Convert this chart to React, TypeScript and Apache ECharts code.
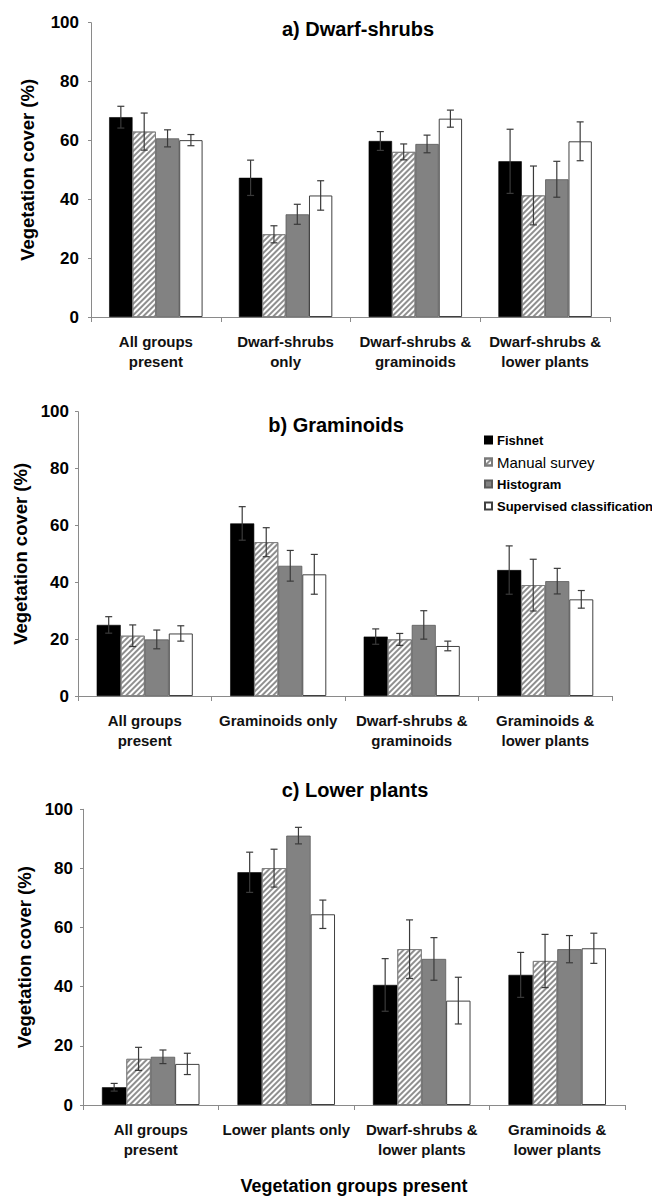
import React, { useEffect, useRef } from "react";
import * as echarts from "echarts";

const SERIES_NAMES = ["Fishnet", "Manual survey", "Histogram", "Supervised classification"];

const CATS_A = ["All groups\npresent", "Dwarf-shrubs\nonly", "Dwarf-shrubs &\ngraminoids", "Dwarf-shrubs &\nlower plants"];
const CATS_B = ["All groups\npresent", "Graminoids only", "Dwarf-shrubs &\ngraminoids", "Graminoids &\nlower plants"];
const CATS_C = ["All groups\npresent", "Lower plants only", "Dwarf-shrubs &\nlower plants", "Graminoids &\nlower plants"];

const Y_TICKS = [0, 20, 40, 60, 80, 100];

// Panel a) Dwarf-shrubs
const A_FISHNET = [67.9, 47.3, 59.8, 52.9];
const A_FISHNET_ERR = [3.7, 6.0, 3.2, 10.9];
const A_MANUAL = [63.0, 28.1, 56.1, 41.3];
const A_MANUAL_ERR = [6.3, 2.9, 2.7, 10.0];
const A_HIST = [60.7, 34.9, 58.8, 46.8];
const A_HIST_ERR = [2.9, 3.4, 3.0, 6.1];
const A_SUP = [60.1, 41.3, 67.4, 59.7];
const A_SUP_ERR = [1.9, 5.0, 2.9, 6.6];

// Panel b) Graminoids
const B_FISHNET = [25.0, 60.7, 20.9, 44.3];
const B_FISHNET_ERR = [2.9, 5.9, 2.7, 8.5];
const B_MANUAL = [21.2, 54.1, 19.9, 39.0];
const B_MANUAL_ERR = [3.8, 5.1, 2.1, 9.1];
const B_HIST = [19.9, 45.8, 25.0, 40.4];
const B_HIST_ERR = [3.3, 5.4, 5.0, 4.5];
const B_SUP = [22.0, 42.8, 17.6, 34.0];
const B_SUP_ERR = [2.7, 7.0, 1.7, 3.1];

// Panel c) Lower plants
const C_FISHNET = [6.0, 78.7, 40.6, 44.0];
const C_FISHNET_ERR = [1.3, 6.8, 8.9, 7.6];
const C_MANUAL = [15.6, 80.1, 52.7, 48.7];
const C_MANUAL_ERR = [3.9, 6.4, 9.9, 9.0];
const C_HIST = [16.3, 91.1, 49.4, 52.7];
const C_HIST_ERR = [2.3, 2.8, 7.2, 4.6];
const C_SUP = [13.9, 64.5, 35.3, 53.0];
const C_SUP_ERR = [3.6, 4.8, 7.9, 5.1];

const FONT = "'Liberation Sans', Arial, Helvetica, sans-serif";
const GAP = 0.28;

const STYLES: any[] = [
  { color: "#000000", borderColor: "#000000", borderWidth: 0.6 },
  {
    color: "#ffffff",
    borderColor: "#7a7a7a",
    borderWidth: 0.8,
    decal: {
      symbol: "rect",
      symbolSize: 1,
      color: "#8f8f8f",
      dashArrayX: [1, 0],
      dashArrayY: [1.1, 1.9],
      rotation: -Math.PI / 4,
    },
  },
  { color: "#828282", borderColor: "#5a5a5a", borderWidth: 0.8 },
  { color: "#ffffff", borderColor: "#404040", borderWidth: 1 },
];

export default function App() {
  const ref = useRef<HTMLDivElement>(null);

  useEffect(() => {
    if (!ref.current) return;
    const chart = echarts.init(ref.current, undefined, { renderer: "svg" });

    const panels = [
      { cats: CATS_A, vals: [A_FISHNET, A_MANUAL, A_HIST, A_SUP], errs: [A_FISHNET_ERR, A_MANUAL_ERR, A_HIST_ERR, A_SUP_ERR], grid: { left: 91, right: 42, top: 22.7, height: 294.3 }, labelMargin: 12, nameGap: 54 },
      { cats: CATS_B, vals: [B_FISHNET, B_MANUAL, B_HIST, B_SUP], errs: [B_FISHNET_ERR, B_MANUAL_ERR, B_HIST_ERR, B_SUP_ERR], grid: { left: 78, right: 40, top: 411.7, height: 284.3 }, labelMargin: 9, nameGap: 40 },
      { cats: CATS_C, vals: [C_FISHNET, C_MANUAL, C_HIST, C_SUP], errs: [C_FISHNET_ERR, C_MANUAL_ERR, C_HIST_ERR, C_SUP_ERR], grid: { left: 83, right: 27, top: 809.3, height: 295.7 }, labelMargin: 10, nameGap: 43 },
    ];

    const grids: any[] = [];
    const xAxes: any[] = [];
    const yAxes: any[] = [];
    const series: any[] = [];

    panels.forEach((p, gi) => {
      grids.push({ ...p.grid, containLabel: false });
      xAxes.push({
        type: "category",
        gridIndex: gi,
        data: p.cats,
        axisLine: { lineStyle: { color: "#8a8a8a", width: 1 } },
        axisTick: { show: true, length: 5, lineStyle: { color: "#8a8a8a" } },
        axisLabel: {
          color: "#111",
          fontFamily: FONT,
          fontWeight: "bold",
          fontSize: 15,
          lineHeight: 20,
          margin: 14,
          interval: 0,
        },
        name: gi === 2 ? "Vegetation groups present" : "",
        nameLocation: "middle",
        nameGap: 72,
        nameTextStyle: { color: "#000", fontFamily: FONT, fontWeight: "bold", fontSize: 18 },
      });
      yAxes.push({
        type: "value",
        gridIndex: gi,
        min: 0,
        max: 100,
        interval: 20,
        splitLine: { show: false },
        axisLine: { show: true, lineStyle: { color: "#8a8a8a", width: 1 } },
        axisTick: { show: true, length: 3, lineStyle: { color: "#8a8a8a" } },
        axisLabel: {
          color: "#000",
          fontFamily: FONT,
          fontWeight: "bold",
          fontSize: 17,
          margin: p.labelMargin,
          formatter: (v: number) => (Y_TICKS.indexOf(v) >= 0 ? String(v) : ""),
        },
        name: "Vegetation cover (%)",
        nameLocation: "middle",
        nameGap: p.nameGap,
        nameTextStyle: { color: "#000", fontFamily: FONT, fontWeight: "bold", fontSize: 18.5 },
      });

      p.vals.forEach((vals, si) => {
        series.push({
          type: "bar",
          name: SERIES_NAMES[si],
          xAxisIndex: gi,
          yAxisIndex: gi,
          data: vals,
          barGap: "0%",
          barCategoryGap: GAP * 100 + "%",
          itemStyle: STYLES[si],
          emphasis: { disabled: true },
        });
      });

      const errData: any[] = [];
      p.vals.forEach((vals, si) => {
        vals.forEach((v, ci) => {
          errData.push([ci, v, p.errs[si][ci], si]);
        });
      });
      series.push({
        type: "custom",
        xAxisIndex: gi,
        yAxisIndex: gi,
        data: errData,
        encode: { x: 0, y: 1 },
        silent: true,
        z: 10,
        renderItem: (params: any, api: any) => {
          const ci = api.value(0);
          const v = api.value(1);
          const e = api.value(2);
          const si = api.value(3);
          const bw = api.size([1, 0])[0];
          const w = (bw * (1 - GAP)) / 4;
          const c = api.coord([ci, v]);
          const x = c[0] + (si - 1.5) * w;
          const yt = api.coord([ci, v + e])[1];
          const yb = api.coord([ci, v - e])[1];
          const cap = 3.5;
          const st = { stroke: "#3a3a3a", lineWidth: 1.2 };
          return {
            type: "group",
            children: [
              { type: "line", shape: { x1: x, y1: yt, x2: x, y2: yb }, style: st },
              { type: "line", shape: { x1: x - cap, y1: yt, x2: x + cap, y2: yt }, style: st },
              { type: "line", shape: { x1: x - cap, y1: yb, x2: x + cap, y2: yb }, style: st },
            ],
          };
        },
      });
    });

    const titleStyle = { fontFamily: FONT, fontWeight: "bold", fontSize: 20, color: "#000" };

    chart.setOption({
      animation: false,
      backgroundColor: "#ffffff",
      title: [
        { text: "a) Dwarf-shrubs", left: 353, top: 14, textAlign: "center", textStyle: titleStyle },
        { text: "b) Graminoids", left: 331, top: 410, textAlign: "center", textStyle: titleStyle },
        { text: "c) Lower plants", left: 350, top: 775, textAlign: "center", textStyle: titleStyle },
      ],
      legend: {
        data: SERIES_NAMES,
        orient: "vertical",
        left: 479,
        top: 427,
        itemWidth: 7,
        itemHeight: 7,
        itemGap: 6,
        icon: "rect",
        selectedMode: false,
        formatter: (name: string) => (name === "Manual survey" ? `{r|${name}}` : `{b|${name}}`),
        textStyle: {
          color: "#000",
          fontFamily: FONT,
          lineHeight: 16,
          rich: {
            r: { fontFamily: FONT, fontSize: 15, fontWeight: "normal", lineHeight: 16, color: "#000" },
            b: { fontFamily: FONT, fontSize: 13, fontWeight: "bold", lineHeight: 16, color: "#000" },
          },
        },
      },
      grid: grids,
      xAxis: xAxes,
      yAxis: yAxes,
      series,
    });

    return () => chart.dispose();
  }, []);

  return (
    <div
      ref={ref}
      style={{ position: "absolute", left: 0, top: 0, width: 652, height: 1199, background: "#fff" }}
    />
  );
}
